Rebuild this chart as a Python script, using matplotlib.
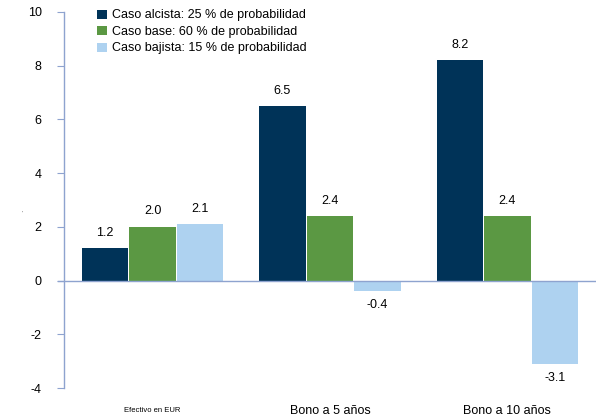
import matplotlib
matplotlib.use("Agg")
import matplotlib.pyplot as plt
import numpy as np

plt.rcParams["font.family"] = ["Liberation Sans", "DejaVu Sans"]

categories = ["Efectivo en EUR", "Bono a 5 años", "Bono a 10 años"]
series_names = [
    "Caso alcista: 25 % de probabilidad",
    "Caso base: 60 % de probabilidad",
    "Caso bajista: 15 % de probabilidad",
]
alcista = [1.2, 6.5, 8.2]
base = [2.0, 2.4, 2.4]
bajista = [2.1, -0.4, -3.1]
y_ticks = [-4, -2, 0, 2, 4, 6, 8, 10]

colors = ["#003358", "#5b9843", "#aed2f0"]
axis_color = "#8ea3cf"

fig = plt.figure(figsize=(5.96, 4.19), dpi=100)
ax = fig.add_axes([64 / 596, 1 - 388 / 419, (596 - 64) / 596, (388 - 12) / 419])

x = np.arange(len(categories))
width = 0.262
offsets = [-0.268, 0.0, 0.268]
for vals, off, col, name in zip([alcista, base, bajista], offsets, colors, series_names):
    bars = ax.bar(x + off, vals, width, color=col, label=name, zorder=2)
    for b, v in zip(bars, vals):
        if v >= 0:
            ax.text(b.get_x() + b.get_width() / 2, v + 0.35, f"{v:.1f}",
                    ha="center", va="bottom", fontsize=9)
        else:
            ax.text(b.get_x() + b.get_width() / 2, v - 0.3, f"{v:.1f}",
                    ha="center", va="top", fontsize=9)

ax.set_xlim(-0.5, 2.5)
ax.set_ylim(-4, 10)
ax.set_yticks(y_ticks)
ax.set_yticklabels([str(t) for t in y_ticks], fontsize=9)
ax.tick_params(axis="y", direction="out", length=5, color=axis_color, pad=11)
ax.set_xticks([])

for s in ["top", "right", "bottom"]:
    ax.spines[s].set_visible(False)
ax.spines["left"].set_color(axis_color)
ax.spines["left"].set_linewidth(1.0)

# zero line extending slightly left of the axis
ax.plot([-0.535, 2.5], [0, 0], color=axis_color, lw=1.0, clip_on=False, zorder=3)

# category labels under the plot
label_sizes = [5.5, 9, 9]
for xi, cat, fs in zip(x, categories, label_sizes):
    ax.text(xi, -4.85, cat, ha="center", va="center", fontsize=fs)

ax.text(-0.737, 2.5, "'", ha="center", va="center", fontsize=4, color="#666666",
        clip_on=False)

leg = ax.legend(loc="upper left", bbox_to_anchor=(0.046, 1.03), frameon=False,
                fontsize=9, handlelength=0.75, handleheight=0.75, handletextpad=0.45,
                labelspacing=0.36, borderpad=0.2)

fig.savefig("out.png", dpi=100)
